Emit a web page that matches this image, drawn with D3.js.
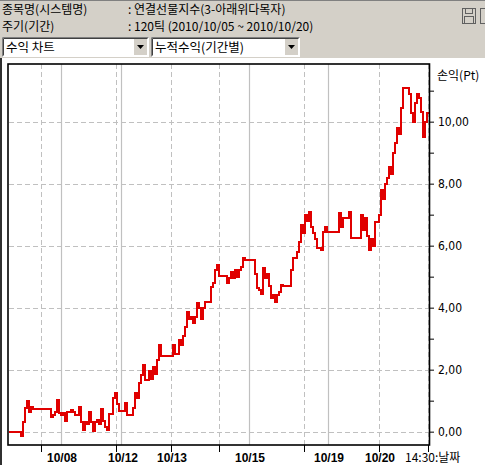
<!DOCTYPE html>
<html>
<head>
<meta charset="utf-8">
<script src="https://cdn.jsdelivr.net/npm/d3@7"></script>
<style>
  body { margin: 0; background: #d4d0c8; }
  svg { display: block; }
</style>
</head>
<body>
<svg id="chart" width="485" height="465"></svg>
<script>
// Header info
const infoLabels = ["종목명(시스템명)", "주기(기간)"];
const infoValues = [": 연결선물지수(3-아래위다목자)", ": 120틱 (2010/10/05 ~ 2010/10/20)"];
const comboTexts = ["수익 차트", "누적수익(기간별)"];

// Cumulative profit per 120-tick bar (Pt)
const profit = [
  0, 0, 0, 0, 0, 0, -0.14, 0.3, 0.75, 0.98,
  0.62, 0.8, 0.72, 0.72, 0.72, 0.72, 0.72, 0.72, 0.72, 0.72,
  0.72, 0.47, 0.55, 0.65, 1.02, 0.6, 0.54, 0.6, 0.35, 0.64,
  0.64, 0.7, 0.64, 0.54, 0.54, 0.8, 0.3, 0.05, 0.3, 0.25,
  0.63, 0.3, 0.02, 0.3, 0.38, 0.25, 0.72, 0.35, 0.15, 0.05,
  0.57, 0.57, 1.1, 1.25, 0.9, 0.67, 0.67, 0.67, 0.92, 0.54,
  0.54, 0.54, 0.75, 1.25, 1.1, 1.57, 1.83, 2.15, 1.67, 1.67,
  1.95, 1.7, 2.1, 1.85, 2.3, 2.8, 2.44, 2.44, 2.44, 2.44,
  2.44, 2.44, 2.8, 2.5, 2.5, 2.96, 2.8, 3.1, 3.37, 3.86,
  3.65, 3.7, 3.5, 3.7, 4.14, 3.99, 3.65, 4.0, 4.18, 4.18,
  4.18, 4.66, 4.8, 5.2, 5.37, 5.02, 5.02, 5.02, 5.02, 4.8,
  4.95, 5.15, 4.95, 5.2, 5.0, 5.2, 5.3, 5.6, 5.53, 5.53,
  5.53, 5.53, 5.53, 5.1, 4.63, 4.57, 4.45, 5.27, 4.95, 5.1,
  4.7, 4.3, 4.4, 4.18, 4.4, 4.5, 4.73, 4.7, 4.7, 4.7,
  4.7, 5.2, 5.6, 5.6, 5.8, 6.12, 6.66, 6.4, 7.0, 6.8,
  7.1, 6.6, 6.4, 6.2, 5.93, 5.93, 5.86, 6.45, 6.6, 6.44,
  6.44, 6.44, 6.44, 6.44, 6.44, 7.05, 6.6, 6.9, 6.9, 6.9,
  7.1, 6.25, 6.25, 6.25, 6.25, 6.25, 7.0, 6.5, 6.9, 6.3,
  5.85, 6.2, 6.0, 6.76, 6.76, 7.0, 7.8, 7.5, 8.0, 8.17,
  8.53, 8.3, 9.0, 9.3, 9.8, 9.6, 10.43, 11.08, 11.08, 11.08,
  10.9, 10.27, 10.0, 10.6, 10.9, 10.75, 10.3, 9.5, 10.0, 10.27
];

// Axis / grid positions in bar units
const dashedBars = [16, 53.5, 81, 105, 147.5, 185, 209.5];
const solidBars = [26, 56, 120, 159.5];
const dateLabels = ["10/08", "10/12", "10/13", "10/15", "10/19", "10/20"];
const dateBars = [26.5, 57, 81.5, 120.5, 160, 185.5];
const yTicks = [0, 2, 4, 6, 8, 10];
const yMinor = [1, 3, 5, 7, 9, 11];

const svg = d3.select("#chart");
const W = 485, H = 465;
const kr = "'Noto Sans CJK KR', 'DejaVu Sans', sans-serif";

// Window chrome
svg.append("rect").attr("width", W).attr("height", H).attr("fill", "#d4d0c8");
svg.append("line").attr("x1", 0).attr("x2", W).attr("y1", 0.5).attr("y2", 0.5).attr("stroke", "#808080");

svg.selectAll("text.info-l")
  .data(infoLabels)
  .enter()
  .append("text")
  .attr("x", 2)
  .attr("y", (d, i) => 14 + i * 17)
  .style("font-family", kr)
  .style("font-size", "12px")
  .text(d => d);

svg.selectAll("text.info-v")
  .data(infoValues)
  .enter()
  .append("text")
  .attr("x", 128)
  .attr("y", (d, i) => 14 + i * 17)
  .style("font-family", kr)
  .style("font-size", "12px")
  .text(d => d);

// save icon
const icon = svg.append("g").attr("transform", "translate(462,8)");
icon.append("rect").attr("x", 0.5).attr("y", 0.5).attr("width", 13).attr("height", 15).attr("fill", "#d4d0c8").attr("stroke", "#606060");
icon.append("rect").attr("x", 3.5).attr("y", 0.5).attr("width", 7).attr("height", 5).attr("fill", "none").attr("stroke", "#606060");
icon.append("rect").attr("x", 2.5).attr("y", 8.5).attr("width", 9).attr("height", 7).attr("fill", "none").attr("stroke", "#606060");
svg.append("rect").attr("x", 480.5).attr("y", 8.5).attr("width", 6).attr("height", 15).attr("fill", "none").attr("stroke", "#606060");

// Combo boxes
const combos = [{ x: 2, w: 147 }, { x: 151, w: 149 }];
combos.forEach((c, i) => {
  const g = svg.append("g").attr("transform", `translate(${c.x},37)`);
  g.append("rect").attr("width", c.w).attr("height", 20).attr("fill", "#fff");
  g.append("path").attr("d", `M0.5,19.5 V0.5 H${c.w - 0.5}`).attr("stroke", "#808080").attr("fill", "none");
  g.append("path").attr("d", `M1.5,18.5 V1.5 H${c.w - 1.5}`).attr("stroke", "#404040").attr("fill", "none");
  g.append("rect").attr("x", c.w - 15).attr("y", 2).attr("width", 13).attr("height", 16).attr("fill", "#d4d0c8");
  g.append("path").attr("d", `M${c.w - 12},8 h7 l-3.5,4 z`).attr("fill", "#000");
  g.append("text")
    .attr("x", 4)
    .attr("y", 15)
    .style("font-family", kr)
    .style("font-size", "12.5px")
    .text(comboTexts[i]);
});

// Chart panel
svg.append("rect").attr("x", 0).attr("y", 58).attr("width", W).attr("height", H - 58).attr("fill", "#fff");
svg.append("rect").attr("x", 0).attr("y", 58).attr("width", 2).attr("height", H - 58).attr("fill", "#303030");

const plotL = 9, plotR = 429, plotT = 64, plotB = 445;

const x = d3.scaleLinear()
  .domain([0, profit.length])
  .range([plotL, plotR]);

const y = d3.scaleLinear()
  .domain([-0.43, 11.86])
  .range([plotB, plotT]);

const grid = svg.append("g");

grid.selectAll("line.h")
  .data(yTicks)
  .enter()
  .append("line")
  .attr("x1", plotL)
  .attr("x2", plotR)
  .attr("y1", d => Math.round(y(d)) + 0.5)
  .attr("y2", d => Math.round(y(d)) + 0.5)
  .attr("stroke", "#c0c0c0")
  .attr("stroke-dasharray", "5,3");

grid.selectAll("line.vd")
  .data(dashedBars)
  .enter()
  .append("line")
  .attr("x1", d => Math.round(x(d)) + 0.5)
  .attr("x2", d => Math.round(x(d)) + 0.5)
  .attr("y1", plotT)
  .attr("y2", plotB)
  .attr("stroke", "#c0c0c0")
  .attr("stroke-dasharray", "5,3");

grid.selectAll("line.vs")
  .data(solidBars)
  .enter()
  .append("line")
  .attr("x1", d => Math.round(x(d)) + 0.5)
  .attr("x2", d => Math.round(x(d)) + 0.5)
  .attr("y1", plotT)
  .attr("y2", plotB)
  .attr("stroke", "#c0c0c0")
  .attr("stroke-width", 1.2);

// Profit line (step per bar)
const pts = profit.map((v, i) => [i, v]);
pts.push([profit.length, profit[profit.length - 1]]);

const line = d3.line()
  .x(d => x(d[0]))
  .y(d => y(d[1]))
  .curve(d3.curveStepAfter);

svg.append("path")
  .datum(pts)
  .attr("fill", "none")
  .attr("stroke", "#e00000")
  .attr("stroke-width", 2)
  .attr("shape-rendering", "crispEdges")
  .attr("d", line);

// Frame
svg.append("rect")
  .attr("x", 8)
  .attr("y", plotT)
  .attr("width", plotR - 8 + 0.5)
  .attr("height", plotB - plotT)
  .attr("fill", "none")
  .attr("stroke", "#000")
  .attr("stroke-width", 1.6);

// Right axis
const yAxis = d3.axisRight(y)
  .tickValues(yTicks.concat(yMinor))
  .tickSize(5)
  .tickFormat(d => yTicks.includes(d) ? d3.format(".2f")(d).replace(".", ",") : "");

svg.append("g")
  .attr("transform", `translate(${plotR},0)`)
  .call(yAxis)
  .call(g => g.select(".domain").remove())
  .call(g => g.selectAll("line").attr("stroke", "#000"))
  .call(g => g.selectAll("text")
    .attr("x", 9)
    .style("font-family", "'Liberation Sans Narrow', 'DejaVu Sans Condensed', sans-serif")
    .style("font-size", "12px")
    .attr("fill", "#000"));

svg.append("text")
  .attr("x", 437)
  .attr("y", 80)
  .style("font-family", kr)
  .style("font-size", "12px")
  .text("손익(Pt)");

// Bottom axis
svg.selectAll("line.bt")
  .data(dashedBars)
  .enter()
  .append("line")
  .attr("x1", d => Math.round(x(d)) + 0.5)
  .attr("x2", d => Math.round(x(d)) + 0.5)
  .attr("y1", plotB)
  .attr("y2", plotB + 7)
  .attr("stroke", "#000");

svg.selectAll("text.date")
  .data(dateLabels)
  .enter()
  .append("text")
  .attr("x", (d, i) => x(dateBars[i]))
  .attr("y", 462)
  .attr("text-anchor", "middle")
  .style("font-family", "'Liberation Sans', Arial, sans-serif")
  .style("font-size", "12px")
  .style("font-weight", "bold")
  .text(d => d);

svg.append("text")
  .attr("x", 405)
  .attr("y", 462)
  .style("font-family", kr)
  .style("font-size", "12px")
  .text("14:30:날짜");
</script>
</body>
</html>
